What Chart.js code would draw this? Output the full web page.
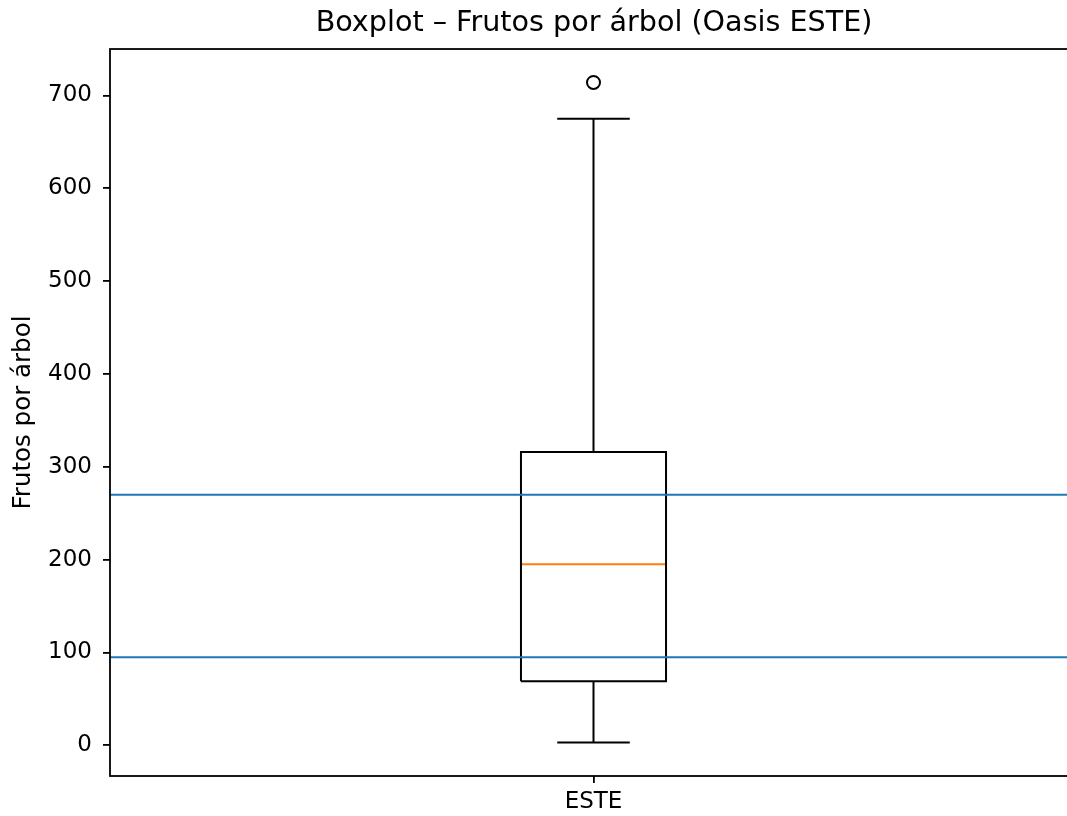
<!DOCTYPE html>
<html>
<head>
<meta charset="utf-8">
<script src="https://cdn.jsdelivr.net/npm/chart.js@4.4.0/dist/chart.umd.min.js"></script>
<style>
  html, body { margin: 0; padding: 0; background: #fff; overflow: hidden; }
  #wrap { width: 1188px; height: 816px; }
</style>
</head>
<body>
<div id="wrap"><canvas id="chartCanvas" width="1188" height="816"></canvas></div>
<script>
// datos
const categories = ["ESTE"];
const q1Values = [69];
const medianValues = [195];
const q3Values = [316];
const whiskerLow = [3];
const whiskerHigh = [675];
const outlierValues = [[714]];
const refLines = [270, 95];
const yTicks = [0, 100, 200, 300, 400, 500, 600, 700];

const boxWidth = 0.15;
const FONT = "'DejaVu Sans', sans-serif";

function seg(points, color, width) {
    return {
        type: "scatter",
        data: points,
        showLine: true,
        borderColor: color,
        borderWidth: width,
        pointRadius: 0,
        fill: false
    };
}

const datasets = [];

// lineas horizontales de referencia
refLines.forEach(v => {
    datasets.push(seg([{ x: 0.5, y: v }, { x: 1.5, y: v }], "#1f77b4", 2));
});

categories.forEach((cat, i) => {
    const x = i + 1;
    const h = boxWidth / 2;
    const c = boxWidth / 4;
    // caja
    datasets.push(seg([
        { x: x - h, y: q1Values[i] }, { x: x + h, y: q1Values[i] },
        { x: x + h, y: q3Values[i] }, { x: x - h, y: q3Values[i] },
        { x: x - h, y: q1Values[i] }
    ], "#000", 2));
    // bigotes
    datasets.push(seg([{ x: x, y: q1Values[i] }, { x: x, y: whiskerLow[i] }], "#000", 2));
    datasets.push(seg([{ x: x, y: q3Values[i] }, { x: x, y: whiskerHigh[i] }], "#000", 2));
    datasets.push(seg([{ x: x - c, y: whiskerLow[i] }, { x: x + c, y: whiskerLow[i] }], "#000", 2));
    datasets.push(seg([{ x: x - c, y: whiskerHigh[i] }, { x: x + c, y: whiskerHigh[i] }], "#000", 2));
    // mediana
    datasets.push(seg([{ x: x - h, y: medianValues[i] }, { x: x + h, y: medianValues[i] }], "#ff7f0e", 2));
    // atipicos
    datasets.push({
        type: "scatter",
        data: outlierValues[i].map(v => ({ x: x, y: v })),
        pointRadius: 6.5,
        pointBorderWidth: 2,
        pointBorderColor: "#000",
        pointBackgroundColor: "rgba(0,0,0,0)"
    });
});

// marco completo (spines)
const framePlugin = {
    id: "frame",
    afterDraw(chart) {
        const a = chart.chartArea;
        const ctx = chart.ctx;
        ctx.save();
        ctx.strokeStyle = "#000";
        ctx.lineWidth = 1.8;
        ctx.strokeRect(a.left, a.top, a.right - a.left, a.bottom - a.top);
        ctx.restore();
    }
};

const ctx = document.getElementById("chartCanvas").getContext("2d");
new Chart(ctx, {
    type: "scatter",
    data: { datasets: datasets },
    plugins: [framePlugin],
    options: {
        responsive: false,
        animation: false,
        layout: { padding: 0 },
        plugins: {
            legend: { display: false },
            tooltip: { enabled: false },
            title: {
                display: true,
                text: "Boxplot – Frutos por árbol (Oasis ESTE)",
                color: "#000",
                font: { family: FONT, size: 28.6, weight: "normal" },
                padding: { top: 6, bottom: 8.7 }
            }
        },
        scales: {
            x: {
                type: "linear",
                min: 0.5,
                max: 1.5,
                afterBuildTicks: s => { s.ticks = categories.map((c, i) => ({ value: i + 1 })); },
                afterFit: s => { s.height = 40; },
                ticks: {
                    color: "#000",
                    font: { family: FONT, size: 23 },
                    padding: 5,
                    maxRotation: 0,
                    callback: v => categories[Math.round(v) - 1]
                },
                grid: { display: true, drawOnChartArea: false, drawTicks: true, tickLength: 7, color: "#000", lineWidth: 1.8 },
                border: { display: false }
            },
            y: {
                min: -33,
                max: 750,
                afterBuildTicks: s => { s.ticks = yTicks.map(v => ({ value: v })); },
                afterFit: s => { s.width = 110; },
                ticks: {
                    color: "#000",
                    font: { family: FONT, size: 23 },
                    padding: 11
                },
                grid: { display: true, drawOnChartArea: false, drawTicks: true, tickLength: 7, color: "#000", lineWidth: 1.8 },
                border: { display: false },
                title: {
                    display: true,
                    text: "Frutos por árbol",
                    color: "#000",
                    font: { family: FONT, size: 24.5 },
                    padding: { top: 9, bottom: 0 }
                }
            },
            // eje vacio a la derecha: reserva el espacio que queda fuera de la ventana
            yRight: {
                position: "right",
                min: -33,
                max: 750,
                afterFit: s => { s.width = 111; },
                ticks: { display: false },
                grid: { display: false },
                border: { display: false }
            }
        }
    }
});
</script>
</body>
</html>
